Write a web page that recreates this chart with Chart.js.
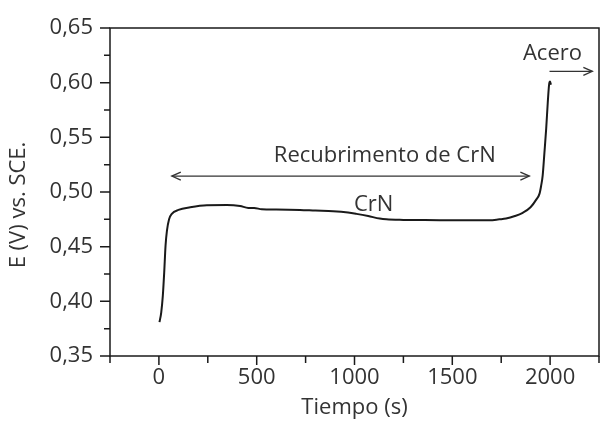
<!DOCTYPE html>
<html>
<head>
<meta charset="utf-8">
<script src="https://cdn.jsdelivr.net/npm/chart.js@4"></script>
<style>
  html, body { margin: 0; padding: 0; background: #fff; }
</style>
</head>
<body>
<canvas id="potentialChart" width="600" height="424"></canvas>
<script>
// Open circuit potential vs time
const timeS = [3, 12, 20, 27, 34, 41, 52, 66, 100, 160, 245, 347, 415, 457, 487, 526, 600, 721, 800, 891, 967, 1010, 1070, 1129, 1163, 1250, 1350, 1435, 1550, 1690, 1740, 1775, 1820, 1860, 1900, 1929, 1946, 1954, 1962, 1971, 1980, 1988, 1996, 2000, 2004];
const potentialV = [0.381, 0.390, 0.405, 0.426, 0.451, 0.4644, 0.475, 0.480, 0.4836, 0.486, 0.4879, 0.4881, 0.4872, 0.4854, 0.4854, 0.4842, 0.484, 0.4836, 0.483, 0.4824, 0.4812, 0.480, 0.478, 0.4757, 0.475, 0.4745, 0.4743, 0.4742, 0.4742, 0.4742, 0.475, 0.4757, 0.478, 0.481, 0.486, 0.493, 0.4985, 0.5055, 0.515, 0.536, 0.558, 0.5816, 0.5998, 0.601, 0.598];

const xRange = [-250, 2250];
const yRange = [0.35, 0.65];

// annotation positions, in data units
const coatingArrow = [66, 1894, 0.5146];
const coatingLabel = ['Recubrimento de CrN', 1155, 0.5335];
const crnLabel = ['CrN', 1098, 0.4888];
const steelArrow = [1997, 2216, 0.6104];
const steelLabel = ['Acero', 2012, 0.6265];

const textColor = '#333';
const lineColor = '#1a1a1a';
const fontFamily = '"Open Sans", "Noto Sans", sans-serif';
const fontSize = 22;

function arrowHead(ctx, x, y, dir) {
  ctx.beginPath();
  ctx.moveTo(x - dir * 9, y - 4);
  ctx.lineTo(x, y);
  ctx.lineTo(x - dir * 9, y + 4);
  ctx.stroke();
}

const decorPlugin = {
  id: 'decor',
  afterDraw(chart) {
    const {ctx, chartArea: a, scales: {x, y}} = chart;
    ctx.save();
    ctx.strokeStyle = lineColor;
    ctx.lineWidth = 1.5;
    ctx.strokeRect(a.left, a.top, a.right - a.left, a.bottom - a.top);

    // tick marks, long for labelled ticks
    ctx.beginPath();
    x.ticks.forEach(t => {
      const px = x.getPixelForValue(t.value);
      ctx.moveTo(px, a.bottom);
      ctx.lineTo(px, a.bottom + (t.label ? 9 : 7));
    });
    y.ticks.forEach(t => {
      const py = y.getPixelForValue(t.value);
      ctx.moveTo(a.left, py);
      ctx.lineTo(a.left - (t.label ? 10 : 6), py);
    });
    ctx.stroke();

    // arrows
    ctx.lineWidth = 1.3;
    ctx.strokeStyle = '#333';
    let x1 = x.getPixelForValue(coatingArrow[0]);
    let x2 = x.getPixelForValue(coatingArrow[1]);
    let py = y.getPixelForValue(coatingArrow[2]);
    ctx.beginPath(); ctx.moveTo(x1, py); ctx.lineTo(x2, py); ctx.stroke();
    arrowHead(ctx, x1, py, -1);
    arrowHead(ctx, x2, py, 1);

    x1 = x.getPixelForValue(steelArrow[0]);
    x2 = x.getPixelForValue(steelArrow[1]);
    py = y.getPixelForValue(steelArrow[2]);
    ctx.beginPath(); ctx.moveTo(x1, py); ctx.lineTo(x2, py); ctx.stroke();
    arrowHead(ctx, x2, py, 1);

    // labels
    ctx.fillStyle = textColor;
    ctx.font = fontSize + 'px ' + fontFamily;
    ctx.textAlign = 'center';
    ctx.textBaseline = 'middle';
    [coatingLabel, crnLabel, steelLabel].forEach(([txt, tx, ty]) => {
      ctx.fillText(txt, x.getPixelForValue(tx), y.getPixelForValue(ty));
    });

    // y axis title
    ctx.translate(19, 205);
    ctx.rotate(-Math.PI / 2);
    ctx.fillText('E (V) vs. SCE.', 0, 0);
    ctx.restore();
  }
};

new Chart(document.getElementById('potentialChart'), {
  type: 'line',
  data: {
    datasets: [{
      data: timeS.map((t, i) => ({x: t, y: potentialV[i]})),
      borderColor: lineColor,
      borderWidth: 2,
      pointRadius: 0,
      fill: false,
      cubicInterpolationMode: 'monotone'
    }]
  },
  options: {
    responsive: false,
    animation: false,
    layout: {padding: {top: 28, right: 1, left: 0, bottom: 0}},
    plugins: {legend: {display: false}, tooltip: {enabled: false}},
    scales: {
      x: {
        type: 'linear',
        min: xRange[0],
        max: xRange[1],
        afterFit(scale) {
          scale.height = 68;
          scale.paddingLeft = 0;
          scale.paddingRight = 0;
        },
        grid: {display: false, drawTicks: false},
        border: {display: false},
        ticks: {
          stepSize: 250,
          autoSkip: false,
          maxRotation: 0,
          padding: 9,
          color: textColor,
          font: {family: fontFamily, size: fontSize},
          callback: v => (Math.round(v) % 500 === 0 ? String(v) : '')
        },
        title: {
          display: true,
          text: 'Tiempo (s)',
          color: textColor,
          font: {family: fontFamily, size: fontSize},
          padding: {top: 0, bottom: 3}
        }
      },
      y: {
        min: yRange[0],
        max: yRange[1],
        afterFit(scale) {
          scale.width = 110;
          scale.paddingTop = 0;
          scale.paddingBottom = 0;
        },
        grid: {display: false, drawTicks: false},
        border: {display: false},
        ticks: {
          stepSize: 0.025,
          autoSkip: false,
          padding: 17,
          color: textColor,
          font: {family: fontFamily, size: fontSize},
          callback: v => (Math.round(v * 1000) % 50 === 0 ? v.toFixed(2).replace('.', ',') : '')
        }
      }
    }
  },
  plugins: [decorPlugin]
});
</script>
</body>
</html>
